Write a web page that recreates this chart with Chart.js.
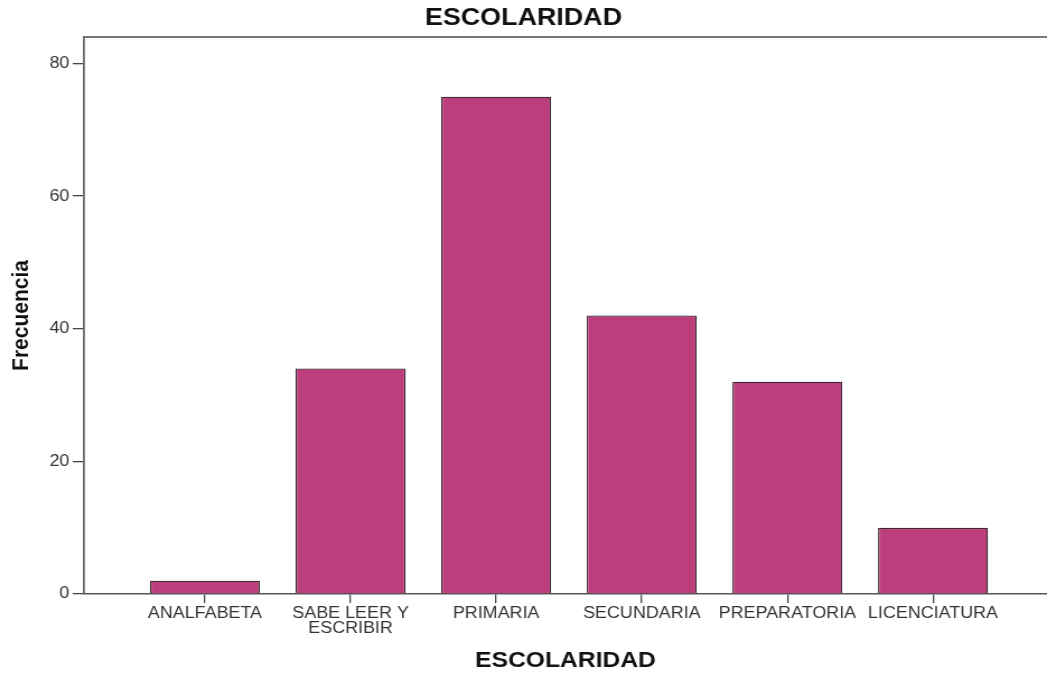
<!DOCTYPE html>
<html>
<head>
<meta charset="utf-8">
<script src="https://cdn.jsdelivr.net/npm/chart.js@4"></script>
<style>
    html, body { margin: 0; padding: 0; background: #fff; overflow: hidden; }
    canvas { display: block; }
</style>
</head>
<body>
<!-- the reference is stretched sideways, so the canvas is drawn narrower and widened by its style -->
<canvas id="chart" width="935" height="673" style="width:1047px;height:673px;"></canvas>
<script>
const categories = ['ANALFABETA', 'SABE LEER Y ESCRIBIR', 'PRIMARIA', 'SECUNDARIA', 'PREPARATORIA', 'LICENCIATURA'];
const tickLabels = ['ANALFABETA', ['SABE LEER Y', 'ESCRIBIR'], 'PRIMARIA', 'SECUNDARIA', 'PREPARATORIA', 'LICENCIATURA'];
const frecuencia = [2, 34, 75, 42, 32, 10];
const yTicks = [0, 20, 40, 60, 80];

const FONT = 'Arial, "Liberation Sans", sans-serif';

// top edge of the frame (the right edge runs off the picture)
const frameTop = {
    id: 'frameTop',
    afterDraw(chart) {
        const {ctx, chartArea} = chart;
        ctx.save();
        ctx.strokeStyle = '#777';
        ctx.lineWidth = 1.8;
        ctx.beginPath();
        ctx.moveTo(chartArea.left, chartArea.top);
        ctx.lineTo(chart.width, chartArea.top);
        ctx.stroke();
        ctx.restore();
    }
};

const ctx = document.getElementById('chart').getContext('2d');
const chart = new Chart(ctx, {
    type: 'bar',
    data: {
        datasets: [{
            label: 'Frecuencia',
            data: frecuencia.map((v, i) => ({x: i, y: v})),
            backgroundColor: '#BC3E7C',
            borderColor: '#3b2a32',
            borderWidth: 1.3,
            barPercentage: 0.755,
            categoryPercentage: 1
        }]
    },
    options: {
        responsive: false,
        animation: false,
        layout: { padding: 0 },
        plugins: {
            legend: { display: false },
            tooltip: { enabled: false },
            title: {
                display: true,
                text: 'ESCOLARIDAD',
                color: '#111',
                font: { family: FONT, size: 24, weight: 'bold', lineHeight: 1.2 },
                padding: { top: 4, bottom: 4.2 }
            }
        },
        scales: {
            x: {
                type: 'linear',
                offset: false,
                min: -0.831,
                max: 5.783,
                afterBuildTicks: (s) => { s.ticks = categories.map((_, i) => ({value: i})); },
                afterFit: (s) => { s.height = 79; },
                ticks: {
                    callback: (v) => tickLabels[v],
                    color: '#333',
                    font: { family: FONT, size: 16, lineHeight: 0.95 },
                    padding: 3,
                    maxRotation: 0,
                    autoSkip: false
                },
                grid: { display: true, offset: false, drawOnChartArea: false, drawTicks: true, tickLength: 9, color: '#444', lineWidth: 1.3 },
                border: { display: true, color: '#555', width: 1.6 },
                title: {
                    display: true,
                    text: 'ESCOLARIDAD',
                    color: '#111',
                    font: { family: FONT, size: 22, weight: 'bold', lineHeight: 1 },
                    padding: { top: 0, bottom: 1 }
                }
            },
            y: {
                min: 0,
                max: 84,
                afterBuildTicks: (s) => { s.ticks = yTicks.map(v => ({value: v})); },
                afterFit: (s) => { s.width = 75; },
                ticks: {
                    color: '#333',
                    font: { family: FONT, size: 16 },
                    padding: 3
                },
                grid: { display: true, drawOnChartArea: false, drawTicks: true, tickLength: 10, color: '#444', lineWidth: 1.3 },
                border: { display: true, color: '#666', width: 1.8 },
                title: {
                    display: true,
                    text: 'Frecuencia',
                    color: '#111',
                    font: { family: FONT, size: 21, weight: 'bold', lineHeight: 1.2 },
                    padding: { top: 7, bottom: 0 }
                }
            }
        }
    },
    plugins: [frameTop]
});
</script>
</body>
</html>
